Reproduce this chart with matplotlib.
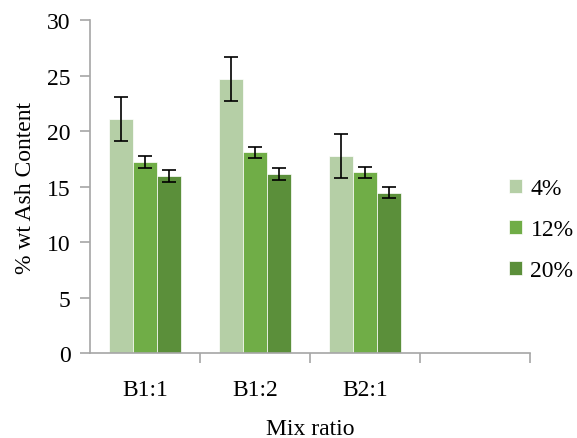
import numpy as np
import matplotlib
matplotlib.use('Agg')
from matplotlib import pyplot as plt

categories = ['B1:1', 'B1:2', 'B2:1']
series = ['4%', '12%', '20%']
ash_4 = [21.1, 24.7, 17.75]
ash_12 = [17.2, 18.1, 16.3]
ash_20 = [15.95, 16.15, 14.45]
err_4 = [2.0, 2.0, 2.0]
err_12 = [0.55, 0.5, 0.5]
err_20 = [0.55, 0.55, 0.5]
colors = ['#B5CFA6', '#70AD47', '#5B8F3A']

plt.rcParams['font.family'] = ['Liberation Serif', 'DejaVu Serif']

fig = plt.figure(figsize=(5.77, 4.39), dpi=100)
ax = fig.add_axes([0.156, 0.1936, 0.7625, 0.758])

x = np.arange(len(categories))
width = 0.219
values = [ash_4, ash_12, ash_20]
errors = [err_4, err_12, err_20]
for i, (vals, errs) in enumerate(zip(values, errors)):
    ax.bar(x + (i - 1) * width, vals, width, color=colors[i], label=series[i],
           edgecolor='white', linewidth=0.5,
           yerr=errs, capsize=5, error_kw=dict(elinewidth=1.2, capthick=1.2, ecolor='black'))

ax.set_xlim(-0.5, 3.5)
ax.set_ylim(0, 30)
ax.set_yticks(np.arange(0, 31, 5))
ax.set_xticks([0.5, 1.5, 2.5, 3.5])
ax.set_xticklabels([])
ax.set_xticks(x, minor=True)
ax.set_xticklabels(categories, minor=True)
ax.tick_params(axis='x', which='minor', length=0, pad=19, labelsize=17)
ax.tick_params(axis='x', which='major', length=7, color='#A6A6A6', width=1.2)
ax.tick_params(axis='y', length=7, color='#A6A6A6', width=1.2, labelsize=17, pad=7)

for s in ['top', 'right']:
    ax.spines[s].set_visible(False)
for s in ['left', 'bottom']:
    ax.spines[s].set_color('#A6A6A6')
    ax.spines[s].set_linewidth(1.2)

ax.set_ylabel('% wt Ash Content', fontsize=17, labelpad=8)
ax.set_xlabel('Mix ratio', fontsize=17, labelpad=12.5)

ax.legend(loc='center left', bbox_to_anchor=(0.926, 0.37), frameon=False, fontsize=17,
          handlelength=0.55, handleheight=0.55, handletextpad=0.35, labelspacing=0.85,
          borderpad=0)

fig.savefig('out.png', dpi=100)
